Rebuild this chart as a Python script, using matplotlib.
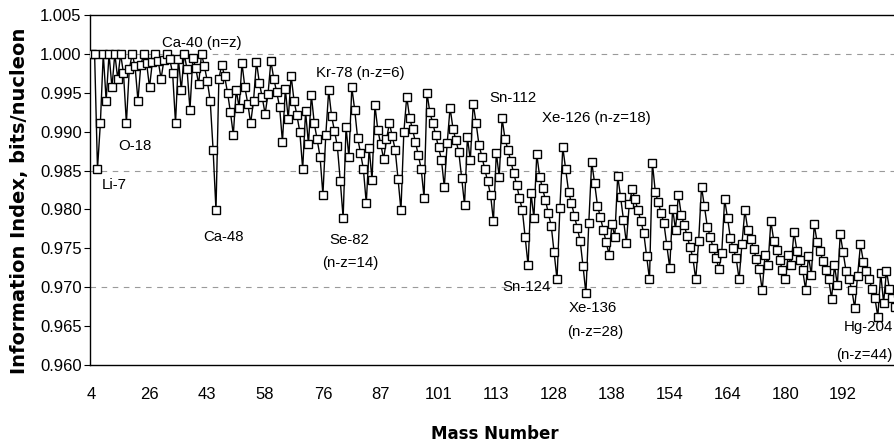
import matplotlib
matplotlib.use("Agg")
import matplotlib.pyplot as plt

plt.rcParams['font.family'] = ['Liberation Sans', 'DejaVu Sans']

# information index (bits/nucleon) of the naturally occurring nuclides,
# ordered by element then mass number (He-4 ... Bi-209)
values = [
    1.0000, 1.0000, 0.9852, 0.9911, 1.0000, 0.9940, 1.0000, 0.9957, 1.0000, 0.9968,
    1.0000, 0.9975, 0.9911, 0.9980, 1.0000, 0.9984, 0.9940, 0.9986, 1.0000, 0.9988,
    0.9957, 0.9990, 1.0000, 0.9991, 0.9968, 0.9992, 1.0000, 0.9993, 0.9975, 0.9911,
    0.9994, 0.9953, 1.0000, 0.9980, 0.9928, 0.9995, 0.9982, 0.9961, 1.0000, 0.9984,
    0.9965, 0.9940, 0.9877, 0.9799, 0.9968, 0.9986, 0.9971, 0.9950, 0.9925, 0.9896,
    0.9954, 0.9931, 0.9988, 0.9957, 0.9936, 0.9911, 0.9940, 0.9990, 0.9963, 0.9944,
    0.9923, 0.9948, 0.9991, 0.9968, 0.9951, 0.9932, 0.9887, 0.9955, 0.9916, 0.9972,
    0.9940, 0.9921, 0.9900, 0.9852, 0.9926, 0.9884, 0.9947, 0.9911, 0.9890, 0.9868,
    0.9819, 0.9896, 0.9953, 0.9920, 0.9901, 0.9881, 0.9837, 0.9789, 0.9906, 0.9867,
    0.9957, 0.9928, 0.9892, 0.9873, 0.9852, 0.9808, 0.9879, 0.9838, 0.9934, 0.9902,
    0.9884, 0.9865, 0.9890, 0.9911, 0.9894, 0.9877, 0.9839, 0.9799, 0.9899, 0.9945,
    0.9918, 0.9903, 0.9887, 0.9870, 0.9852, 0.9815, 0.9950, 0.9925, 0.9911, 0.9896,
    0.9880, 0.9864, 0.9829, 0.9885, 0.9931, 0.9904, 0.9889, 0.9874, 0.9841, 0.9806,
    0.9893, 0.9863, 0.9936, 0.9911, 0.9883, 0.9868, 0.9852, 0.9836, 0.9819, 0.9785,
    0.9873, 0.9842, 0.9917, 0.9891, 0.9877, 0.9862, 0.9847, 0.9832, 0.9815, 0.9799,
    0.9764, 0.9728, 0.9821, 0.9789, 0.9871, 0.9842, 0.9827, 0.9812, 0.9795, 0.9779,
    0.9745, 0.9710, 0.9802, 0.9880, 0.9852, 0.9823, 0.9808, 0.9792, 0.9776, 0.9760,
    0.9727, 0.9692, 0.9783, 0.9861, 0.9834, 0.9805, 0.9790, 0.9774, 0.9758, 0.9742,
    0.9781, 0.9765, 0.9843, 0.9816, 0.9787, 0.9757, 0.9807, 0.9826, 0.9813, 0.9799,
    0.9785, 0.9770, 0.9740, 0.9710, 0.9860, 0.9823, 0.9809, 0.9796, 0.9782, 0.9754,
    0.9725, 0.9801, 0.9774, 0.9819, 0.9793, 0.9780, 0.9766, 0.9752, 0.9738, 0.9710,
    0.9759, 0.9829, 0.9804, 0.9778, 0.9765, 0.9751, 0.9738, 0.9724, 0.9744, 0.9813,
    0.9789, 0.9763, 0.9750, 0.9737, 0.9710, 0.9756, 0.9799, 0.9774, 0.9762, 0.9749,
    0.9736, 0.9723, 0.9696, 0.9742, 0.9729, 0.9785, 0.9760, 0.9748, 0.9735, 0.9722,
    0.9710, 0.9741, 0.9729, 0.9771, 0.9747, 0.9735, 0.9722, 0.9697, 0.9740, 0.9716,
    0.9781, 0.9758, 0.9746, 0.9734, 0.9722, 0.9710, 0.9685, 0.9728, 0.9703, 0.9768,
    0.9745, 0.9721, 0.9710, 0.9697, 0.9673, 0.9715, 0.9755, 0.9733, 0.9721, 0.9710,
    0.9698, 0.9686, 0.9662, 0.9718, 0.9680, 0.9721, 0.9698, 0.9686, 0.9675, 0.9692,
]

# category axis labels, one every 20 nuclides
tick_labels = ['4', '26', '43', '58', '76', '87', '101', '113', '128', '138',
               '154', '164', '180', '192']
tick_step = 20

grid_levels = [1.000, 0.985, 0.970]

# (text, category position, value)
notes = [
    ('Ca-40 (n=z)', 38.2, 1.0014),
    ('O-18', 15.0, 0.9882),
    ('Li-7', 7.7, 0.9831),
    ('Ca-48', 45.5, 0.9765),
    ('Kr-78 (n-z=6)', 92.8, 0.9975),
    ('Se-82', 89.1, 0.9761),
    ('(n-z=14)', 89.4, 0.9731),
    ('Sn-112', 145.8, 0.9943),
    ('Xe-126 (n-z=18)', 174.5, 0.9918),
    ('Sn-124', 150.6, 0.9700),
    ('Xe-136', 173.4, 0.9673),
    ('(n-z=28)', 174.1, 0.9642),
    ('Hg-204', 268.8, 0.9649),
    ('(n-z=44)', 267.4, 0.9613),
]

fig = plt.figure(figsize=(8.94, 4.45), dpi=100)
ax = fig.add_axes([90 / 894, 80 / 445, 804 / 894, 350 / 445])

x = list(range(len(values)))
for g in grid_levels:
    ax.axhline(g, color='#9a9a9a', lw=0.8, ls=(0, (5, 5)), zorder=1)

ax.plot(x, values, color='black', lw=1.0, marker='s', markersize=5.8,
        markerfacecolor='white', markeredgecolor='black', markeredgewidth=1.0,
        zorder=3)

for txt, px, py in notes:
    ax.text(px, py, txt, ha='center', va='center', fontsize=10.8, zorder=4)

ax.set_xlim(-0.59, 277.6)
ax.set_ylim(0.960, 1.005)
ax.set_yticks([0.960 + 0.005 * i for i in range(10)])
ax.set_yticklabels(['%.3f' % (0.960 + 0.005 * i) for i in range(10)], fontsize=12)
ax.set_xticks([i * tick_step for i in range(len(tick_labels))])
ax.set_xticklabels(tick_labels, fontsize=12)
ax.tick_params(axis='x', length=0, pad=16)
ax.tick_params(axis='y', length=4, width=0.8, pad=2, direction='out')

ax.spines['right'].set_visible(False)
for s in ['left', 'bottom', 'top']:
    ax.spines[s].set_linewidth(1.0)

fig.text(20 / 894, 1 - 201 / 445, 'Information Index, bits/nucleon', rotation=90,
         ha='center', va='center', fontsize=14, fontweight='bold',
         family='DejaVu Sans')
fig.text(495 / 894, 1 - 434 / 445, 'Mass Number', ha='center', va='center',
         fontsize=12, fontweight='bold', family='DejaVu Sans')

fig.savefig('out.png', dpi=100)
